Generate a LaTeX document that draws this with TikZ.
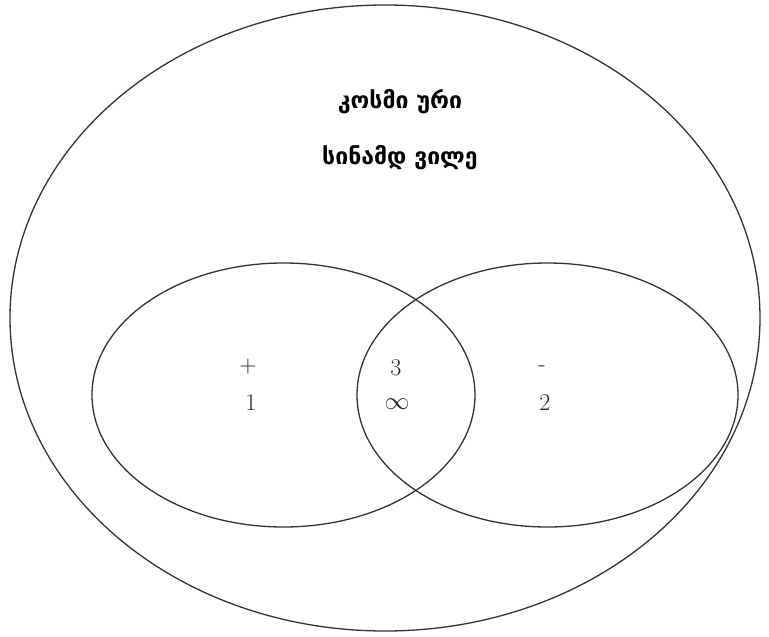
\documentclass[tikz,border=0pt]{standalone}
\usepackage{fontspec}
\newfontfamily\geo{DejaVu Sans}
\begin{document}
\begin{tikzpicture}[x=1pt,y=-1pt,
  ring/.style={draw=black!80,line width=1.3pt},
  lbl/.style={font=\fontsize{24}{24}\selectfont, inner sep=0pt, text=black!85},
  geolbl/.style={font=\geo\bfseries\fontsize{23}{23}\selectfont, inner sep=0pt}]
\useasboundingbox (0,0) rectangle (769,637);
\draw[ring] (385,318) ellipse [x radius=375, y radius=313];
\draw[ring] (283.5,395) ellipse [x radius=191.5, y radius=132];
\draw[ring] (547.5,395) ellipse [x radius=190.5, y radius=132];
\node[geolbl] (t1) at (400,102) {კოსმი ური};
\node[geolbl] (t2) at (400,158) {სინამდ ვილე};
\node[lbl] (p) at (248,367) {+};
\node[lbl] (n1) at (251,403) {1};
\node[lbl] (n3) at (396,368) {3};
\node[lbl] (inf) at (397,404) {$\infty$};
\node[lbl] (m) at (542,369) {-};
\node[lbl] (n2) at (545,403) {2};
\end{tikzpicture}
\end{document}
